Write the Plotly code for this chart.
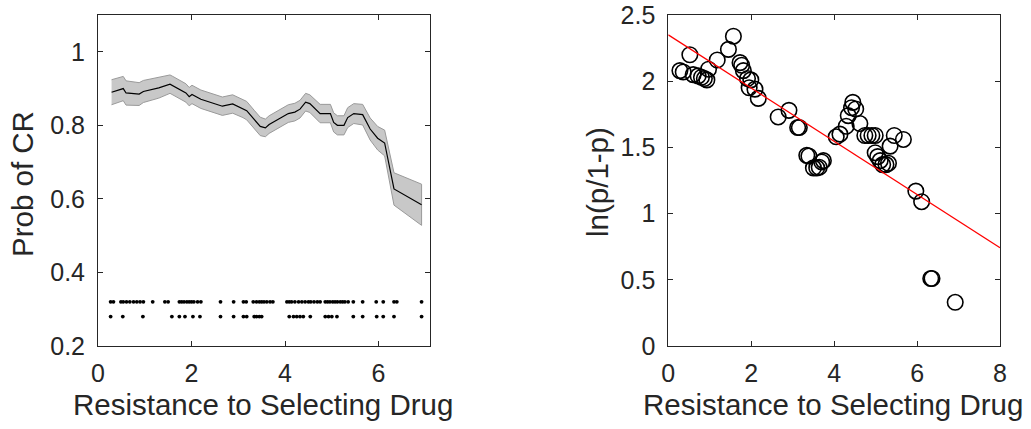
import plotly.graph_objects as go

# ---- Left panel: smoothed probability of CR with confidence band ----
curve_x = [0.29, 0.43, 0.54, 0.60, 0.88, 0.97, 1.30, 1.54, 1.60, 1.88, 1.95, 2.01, 2.20,
           2.66, 2.88, 3.10, 3.18, 3.34, 3.47, 3.58, 3.66, 4.07, 4.21, 4.32, 4.44, 4.53,
           4.75, 4.97, 5.04, 5.12, 5.26, 5.34, 5.47, 5.66, 5.82, 5.98, 6.13, 6.33, 6.92]
curve_p = [0.890, 0.896, 0.900, 0.888, 0.885, 0.892, 0.902, 0.912, 0.908, 0.888, 0.878, 0.884, 0.871,
           0.852, 0.858, 0.846, 0.840, 0.816, 0.797, 0.793, 0.802, 0.832, 0.836, 0.844, 0.863, 0.859,
           0.832, 0.832, 0.808, 0.800, 0.800, 0.821, 0.832, 0.829, 0.790, 0.765, 0.752, 0.627, 0.584]
ci_half = [0.034, 0.034, 0.033, 0.033, 0.031, 0.030, 0.028, 0.025, 0.025, 0.025, 0.025, 0.025, 0.025,
           0.025, 0.025, 0.025, 0.025, 0.025, 0.025, 0.024, 0.024, 0.024, 0.024, 0.024, 0.024, 0.024,
           0.025, 0.025, 0.026, 0.026, 0.026, 0.027, 0.027, 0.028, 0.030, 0.032, 0.035, 0.044, 0.056]

# responders (upper row) and non-responders (lower row) rug positions
rug_hi_y = 0.32
rug_lo_y = 0.28
rug_hi_x = [0.27, 0.33, 0.49, 0.54, 0.61, 0.68, 0.76, 0.83, 0.90, 0.97, 1.17, 1.43, 1.50,
            1.74, 1.79, 1.84, 1.90, 1.95, 2.00, 2.05, 2.13, 2.20, 2.62, 2.90, 3.11, 3.17,
            3.32, 3.39, 3.45, 3.50, 3.55, 3.61, 3.68, 3.74, 4.04, 4.09, 4.14, 4.21, 4.29,
            4.36, 4.43, 4.50, 4.55, 4.62, 4.69, 4.75, 4.86, 4.91, 4.96, 5.02, 5.07, 5.12,
            5.18, 5.23, 5.28, 5.35, 5.46, 5.66, 5.95, 6.10, 6.33, 6.39, 6.92]
rug_lo_x = [0.27, 0.53, 0.96, 1.58, 1.74, 1.86, 2.03, 2.18, 2.62, 2.90, 3.11, 3.18, 3.34,
            3.39, 3.45, 3.50, 4.09, 4.18, 4.25, 4.32, 4.39, 4.54, 4.86, 4.93, 5.00, 5.11,
            5.46, 5.66, 5.96, 6.10, 6.33, 6.92]

# ---- Right panel: logit scatter with linear fit ----
sc_x = [0.28, 0.36, 0.52, 0.60, 0.72, 0.80, 0.87, 0.93, 0.97, 1.18, 1.45, 1.57,
        1.73, 1.77, 1.81, 1.91, 1.99, 1.95, 2.09, 2.17, 2.65, 2.91, 3.12, 3.16,
        3.34, 3.39, 3.50, 3.58, 3.64, 3.70, 3.74, 4.05, 4.14, 4.29, 4.34, 4.42,
        4.45, 4.52, 4.62, 4.74, 4.82, 4.91, 4.99, 4.99, 5.05, 5.11, 5.17, 5.25,
        5.31, 5.35, 5.45, 5.67, 5.97, 6.11, 6.33, 6.36, 6.92]
sc_y = [2.08, 2.07, 2.20, 2.05, 2.04, 2.03, 2.02, 2.01, 2.09, 2.16, 2.24, 2.34,
        2.14, 2.12, 2.08, 2.02, 2.01, 1.95, 1.94, 1.87, 1.73, 1.78, 1.65, 1.65,
        1.44, 1.435, 1.345, 1.345, 1.35, 1.39, 1.40, 1.58, 1.60, 1.66, 1.74, 1.80,
        1.84, 1.79, 1.68, 1.59, 1.59, 1.59, 1.59, 1.46, 1.43, 1.40, 1.37, 1.37,
        1.38, 1.51, 1.59, 1.56, 1.17, 1.09, 0.51, 0.51, 0.33]
fit_intercept = 2.35
fit_slope = -0.201
fit_x_range = [0, 8]

FONT = "Liberation Sans, Arial, Helvetica, sans-serif"
AX = "#262626"

upper = [p + h for p, h in zip(curve_p, ci_half)]
lower = [p - h for p, h in zip(curve_p, ci_half)]

fig = go.Figure()
fig.add_trace(go.Scatter(
    x=curve_x + curve_x[::-1], y=upper + lower[::-1], fill="toself",
    fillcolor="#c8c8c8", line=dict(color="#9a9a9a", width=1), mode="lines",
    xaxis="x", yaxis="y", showlegend=False, hoverinfo="skip"))
fig.add_trace(go.Scatter(x=curve_x, y=curve_p, mode="lines",
                         line=dict(color="black", width=1.2), xaxis="x", yaxis="y",
                         showlegend=False))
fig.add_trace(go.Scatter(x=rug_hi_x, y=[rug_hi_y] * len(rug_hi_x), mode="markers",
                         marker=dict(color="black", size=3.8), xaxis="x", yaxis="y",
                         showlegend=False))
fig.add_trace(go.Scatter(x=rug_lo_x, y=[rug_lo_y] * len(rug_lo_x), mode="markers",
                         marker=dict(color="black", size=3.8), xaxis="x", yaxis="y",
                         showlegend=False))

fig.add_trace(go.Scatter(x=sc_x, y=sc_y, mode="markers",
                         marker=dict(symbol="circle-open", color="black", size=15.5,
                                     line=dict(width=1.6, color="black")),
                         xaxis="x2", yaxis="y2", showlegend=False))
fit_y = [fit_intercept + fit_slope * v for v in fit_x_range]
fig.add_trace(go.Scatter(x=fit_x_range, y=fit_y, mode="lines",
                         line=dict(color="#ff0000", width=1.2),
                         xaxis="x2", yaxis="y2", showlegend=False))

W, H = 1031, 429
ydom = [(H - 346) / H, (H - 15) / H]
axis_common = dict(showline=True, linecolor=AX, linewidth=1, mirror="ticks",
                   ticks="inside", ticklen=5, tickcolor=AX, showgrid=False,
                   zeroline=False, automargin=False,
                   tickfont=dict(family=FONT, size=25, color=AX))

fig.update_layout(
    width=W, height=H, margin=dict(l=0, r=0, t=0, b=0, autoexpand=False),
    paper_bgcolor="white", plot_bgcolor="white",
    xaxis=dict(domain=[98 / W, 430 / W], range=[0, 7.1], tickvals=[0, 2, 4, 6],
               anchor="y", ticklabelstandoff=5, **axis_common),
    yaxis=dict(domain=ydom, range=[0.2, 1.1], tickvals=[0.2, 0.4, 0.6, 0.8, 1],
               ticktext=["0.2", "0.4", "0.6", "0.8", "1"], anchor="x",
               ticklabelstandoff=7, **axis_common),
    xaxis2=dict(domain=[668.3 / W, 1000 / W], range=[0, 8], tickvals=[0, 2, 4, 6, 8],
                anchor="y2", ticklabelstandoff=5, **axis_common),
    yaxis2=dict(domain=ydom, range=[0, 2.5], tickvals=[0, 0.5, 1, 1.5, 2, 2.5],
                ticktext=["0", "0.5", "1", "1.5", "2", "2.5"], anchor="x2",
                ticklabelstandoff=7, **axis_common),
)

lab = dict(family=FONT, size=29.5, color=AX)
fig.add_annotation(text="Resistance to Selecting Drug", x=263 / W, y=1 - 404 / H,
                   xref="paper", yref="paper", showarrow=False, font=lab,
                   xanchor="center", yanchor="middle")
fig.add_annotation(text="Resistance to Selecting Drug", x=833 / W, y=1 - 404 / H,
                   xref="paper", yref="paper", showarrow=False, font=lab,
                   xanchor="center", yanchor="middle")
fig.add_annotation(text="Prob of CR", x=22 / W, y=1 - 184 / H, textangle=-90,
                   xref="paper", yref="paper", showarrow=False, font=lab,
                   xanchor="center", yanchor="middle")
fig.add_annotation(text="ln(p/1-p)", x=597 / W, y=1 - 182 / H, textangle=-90,
                   xref="paper", yref="paper", showarrow=False, font=lab,
                   xanchor="center", yanchor="middle")

fig.write_html("out.html", config={"displayModeBar": False},
               post_script="document.body.style.margin='0';document.body.style.overflow='hidden';")
